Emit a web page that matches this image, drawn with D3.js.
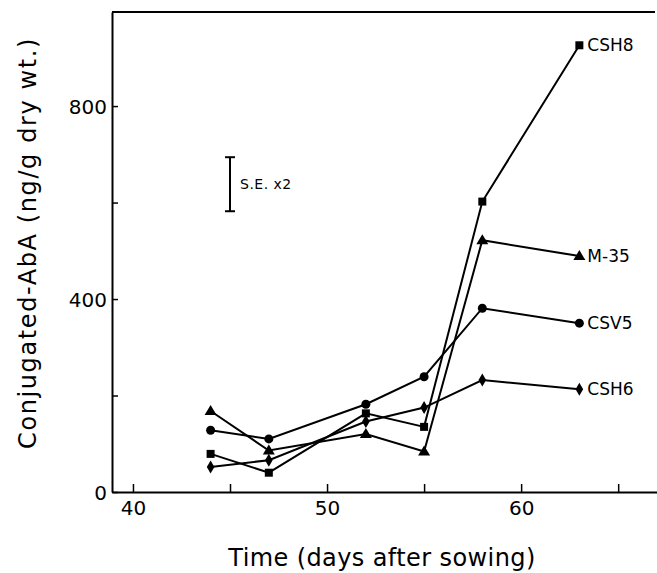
<!DOCTYPE html>
<html>
<head>
<meta charset="utf-8">
<script src="https://cdn.jsdelivr.net/npm/d3@7"></script>
<style>
  body { margin: 0; background: #fff; }
  svg { display: block; font-family: "DejaVu Sans", sans-serif; }
</style>
</head>
<body>
<div class="chart"></div>
<script>
// data
var days = [44, 47, 52, 55, 58, 63];
var csh8 = [79, 40, 163, 135, 602, 926];
var m35 = [168, 86, 120, 84, 522, 489];
var csv5 = [128, 110, 182, 239, 381, 350];
var csh6 = [52, 66, 146, 175, 232, 213];
var seriesNames = ["CSH8", "M-35", "CSV5", "CSH6"];
var xTicks = [40, 45, 50, 55, 60, 65];
var yTicks = [0, 200, 400, 600, 800];
var seDay = 45, seLow = 582, seHigh = 694;

var W = 657, H = 573;

var series = [
  { name: "CSH8", values: csh8, symbol: "square" },
  { name: "M-35", values: m35, symbol: "triangle" },
  { name: "CSV5", values: csv5, symbol: "circle" },
  { name: "CSH6", values: csh6, symbol: "diamond" }
];

var x = d3.scaleLinear().domain([38.92, 67]).range([112, 657]);
var y = d3.scaleLinear().domain([0, 995]).range([492, 12]);

var svg = d3.select(".chart").append("svg")
  .attr("width", W)
  .attr("height", H);

// axes
var xAxis = svg.append("g")
  .attr("transform", "translate(0," + y(0) + ")")
  .call(d3.axisBottom(x).tickValues(xTicks).tickSizeInner(-8).tickSizeOuter(0).tickPadding(9)
    .tickFormat(function (d) { return d % 10 === 0 ? d : ""; }));

var yAxis = svg.append("g")
  .attr("transform", "translate(" + x.range()[0] + ",0)")
  .call(d3.axisLeft(y).tickValues(yTicks).tickSizeInner(-6).tickSizeOuter(0).tickPadding(5)
    .tickFormat(function (d) { return d % 400 === 0 ? d : ""; }));

svg.selectAll(".domain").attr("stroke", "#000").attr("stroke-width", 2);
svg.selectAll(".tick line").attr("stroke", "#000").attr("stroke-width", 1.5);
svg.selectAll(".tick text")
  .attr("fill", "#000")
  .style("font-size", "20px")
  .style("font-family", "DejaVu Sans, sans-serif");
yAxis.selectAll(".tick text").attr("dy", "0.36em");

// top frame line
svg.append("line")
  .attr("x1", x.range()[0]).attr("x2", 655)
  .attr("y1", y(995)).attr("y2", y(995))
  .attr("stroke", "#000").attr("stroke-width", 2);

// axis titles
svg.append("text")
  .attr("x", 382).attr("y", 566)
  .attr("text-anchor", "middle")
  .style("font-size", "24px")
  .style("letter-spacing", "0.4px")
  .text("Time (days after sowing)");

svg.append("text")
  .attr("transform", "translate(36,243) rotate(-90)")
  .attr("text-anchor", "middle")
  .style("font-size", "24px")
  .style("letter-spacing", "1.6px")
  .text("Conjugated-AbA (ng/g dry wt.)");

// S.E. bar
var se = svg.append("g");
se.append("line")
  .attr("x1", x(seDay)).attr("x2", x(seDay))
  .attr("y1", y(seLow)).attr("y2", y(seHigh))
  .attr("stroke", "#000").attr("stroke-width", 2);
[seLow, seHigh].forEach(function (v) {
  se.append("line")
    .attr("x1", x(seDay) - 5).attr("x2", x(seDay) + 5)
    .attr("y1", y(v)).attr("y2", y(v))
    .attr("stroke", "#000").attr("stroke-width", 2);
});
se.append("text")
  .attr("x", x(seDay) + 10).attr("y", y((seLow + seHigh) / 2))
  .attr("dy", "0.35em")
  .style("font-size", "14px")
  .style("letter-spacing", "0.5px")
  .text("S.E. x2");

// lines
var line = d3.line()
  .x(function (d, i) { return x(days[i]); })
  .y(function (d) { return y(d); });

svg.selectAll(".series")
  .data(series)
  .enter().append("path")
  .attr("class", "series")
  .attr("d", function (d) { return line(d.values); })
  .attr("fill", "none")
  .attr("stroke", "#000")
  .attr("stroke-width", 2);

// markers
function marker(g, type) {
  if (type === "square") {
    g.append("rect").attr("x", -4).attr("y", -4).attr("width", 8).attr("height", 8);
  } else if (type === "circle") {
    g.append("circle").attr("r", 4.5);
  } else if (type === "triangle") {
    g.append("path").attr("d", "M0,-6L6,4L-6,4Z");
  } else {
    g.append("path").attr("d", "M0,-6.5L3.8,0L0,6.5L-3.8,0Z");
  }
}

series.forEach(function (s) {
  var pts = svg.append("g").selectAll("g")
    .data(s.values)
    .enter().append("g")
    .attr("transform", function (d, i) { return "translate(" + x(days[i]) + "," + y(d) + ")"; })
    .attr("fill", "#000");
  pts.each(function () { marker(d3.select(this), s.symbol); });

  // end label
  var last = s.values.length - 1;
  svg.append("text")
    .attr("x", x(days[last]) + 8)
    .attr("y", y(s.values[last]))
    .attr("dy", "0.36em")
    .style("font-size", "17px")
    .text(s.name);
});
</script>
</body>
</html>
